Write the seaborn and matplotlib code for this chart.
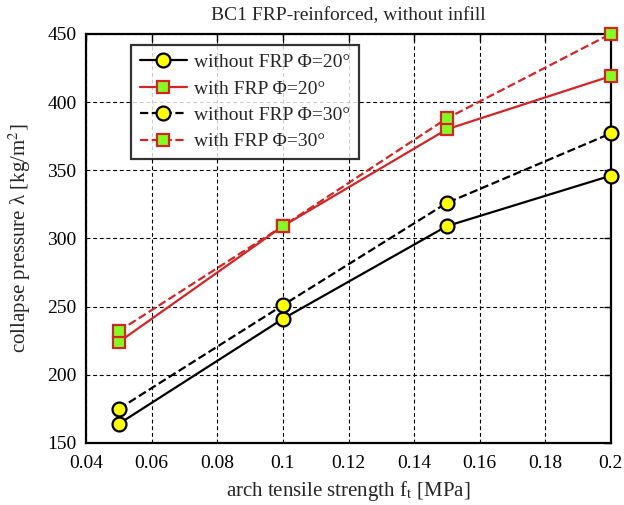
import matplotlib
matplotlib.use("Agg")
import matplotlib.pyplot as plt
import seaborn as sns
import pandas as pd
from matplotlib.ticker import FuncFormatter, MultipleLocator

sns.set_theme(style="white")
plt.rcParams['font.family'] = ['Liberation Serif', 'DejaVu Serif']
plt.rcParams['mathtext.fontset'] = 'stix'

ft = [0.05, 0.10, 0.15, 0.20]
without_20 = [164, 241, 309, 346]
with_20 = [224, 309, 380, 419]
without_30 = [175, 251, 326, 377]
with_30 = [232, 309, 388, 450]
labels = ["without FRP Φ=20°", "with FRP Φ=20°", "without FRP Φ=30°", "with FRP Φ=30°"]

fig = plt.figure(figsize=(6.24, 5.05), dpi=100)
ax = fig.add_axes([0.138, 0.123, 0.841, 0.81])

series = [
    (without_20, labels[0], "black", "-", "o", "#FFFF00", "black", 10),
    (with_20, labels[1], "#D42424", "-", "s", "#80FF20", "#D42424", 8.5),
    (without_30, labels[2], "black", "--", "o", "#FFFF00", "black", 10),
    (with_30, labels[3], "#D42424", "--", "s", "#80FF20", "#D42424", 8.5),
]
for vals, lab, col, ls, mk, mfc, mec, ms in series:
    df = pd.DataFrame({"ft": ft, "p": vals})
    sns.lineplot(data=df, x="ft", y="p", ax=ax, color=col, linestyle=ls,
                 marker=mk, markerfacecolor=mfc, markeredgecolor=mec,
                 markersize=ms, markeredgewidth=1.6, linewidth=1.6, label=lab,
                 clip_on=False, zorder=5)

ax.set_xlim(0.04, 0.2)
ax.set_ylim(150, 450)
ax.xaxis.set_major_locator(MultipleLocator(0.02))
ax.yaxis.set_major_locator(MultipleLocator(50))
ax.xaxis.set_major_formatter(FuncFormatter(lambda v, p: f"{v:g}"))
ax.grid(True, color="black", linestyle=(0, (3.5, 2.5)), linewidth=0.8)
ax.tick_params(direction="in", top=True, right=True, length=5, width=1,
               labelsize=14, colors="black")
ax.tick_params(axis="x", pad=9)
ax.tick_params(axis="y", pad=7)
for s in ax.spines.values():
    s.set_color("black")
    s.set_linewidth(1.6)

ax.set_title("BC1 FRP-reinforced, without infill", fontsize=14, pad=10)
ax.set_xlabel("arch tensile strength f$_\\mathrm{t}$ [MPa]", fontsize=15, labelpad=5)
ax.set_ylabel("collapse pressure λ [kg/m$^2$]", fontsize=15, labelpad=10)

leg = ax.legend(loc="upper left", bbox_to_anchor=(0.086, 0.973), fontsize=14,
                frameon=True, fancybox=False, edgecolor="black",
                handlelength=2.4, handletextpad=0.4, borderpad=0.45,
                labelspacing=0.45, borderaxespad=0)
leg.get_frame().set_linewidth(1.6)
leg.set_zorder(10)

fig.savefig("out.png", dpi=100)
